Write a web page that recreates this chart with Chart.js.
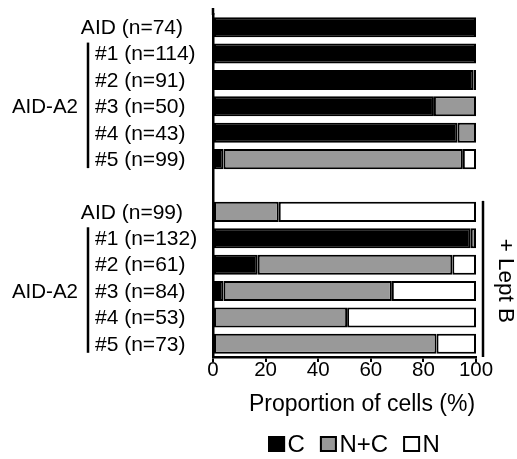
<!DOCTYPE html>
<html>
<head>
<meta charset="utf-8">
<script src="https://cdn.jsdelivr.net/npm/chart.js@4"></script>
<style>
  html, body { margin: 0; padding: 0; background: #fff; }
  #wrap { width: 517px; height: 459px; }
</style>
</head>
<body>
<div id="wrap"><canvas id="chart" width="517" height="459"></canvas></div>
<script>
// rows top to bottom, '' is the gap between the two groups
const rowLabels = ['AID (n=74)', '#1 (n=114)', '#2 (n=91)', '#3 (n=50)', '#4 (n=43)', '#5 (n=99)', '',
  'AID (n=99)', '#1 (n=132)', '#2 (n=61)', '#3 (n=84)', '#4 (n=53)', '#5 (n=73)'];
const cValues  = [100, 100, 99, 84, 93, 4,  null, 0,  98, 17, 4,  0,  0];
const ncValues = [0,   0,   1,  16, 7,  91, null, 25, 2,  74, 64, 51, 85];
const nValues  = [0,   0,   0,  0,  0,  5,  null, 75, 0,  9,  32, 49, 15];
const seriesNames = ['C', 'N+C', 'N'];
const groupLabel = 'AID-A2';
const treatmentLabel = '+ Lept B';
const xTitle = 'Proportion of cells (%)';
const xTicks = [0, 20, 40, 60, 80, 100];

const FONT = '"Liberation Sans", Arial, sans-serif';

const decorations = {
  id: 'decorations',
  afterDraw(chart) {
    const { ctx, chartArea } = chart;
    const y = chart.scales.y;
    const cy = i => y.getPixelForValue(i);
    ctx.save();
    ctx.fillStyle = '#000';
    ctx.strokeStyle = '#000';

    // y axis line runs a little above the plot
    ctx.lineWidth = 2.5;
    ctx.beginPath();
    ctx.moveTo(chartArea.left, 8);
    ctx.lineTo(chartArea.left, chartArea.top + 1);
    ctx.stroke();

    // row labels
    ctx.font = '21px ' + FONT;
    ctx.textBaseline = 'middle';
    rowLabels.forEach((lab, i) => {
      if (!lab) return;
      if (lab.startsWith('AID')) {
        ctx.textAlign = 'right';
        ctx.fillText(lab, 183, cy(i) + 1);
      } else {
        ctx.textAlign = 'left';
        ctx.fillText(lab, 95, cy(i) + 1);
      }
    });

    // group brackets + AID-A2
    ctx.font = '20.5px ' + FONT;
    [[1, 5], [8, 12]].forEach(([a, b]) => {
      ctx.beginPath();
      ctx.moveTo(88, cy(a) - 11);
      ctx.lineTo(88, cy(b) + 9);
      ctx.stroke();
      ctx.textAlign = 'right';
      ctx.fillText(groupLabel, 78, cy((a + b) / 2) + 1);
    });

    // treatment bracket on the right
    ctx.beginPath();
    ctx.moveTo(483, cy(7) - 11);
    ctx.lineTo(483, chartArea.bottom);
    ctx.stroke();
    ctx.save();
    ctx.translate(505, (cy(7) + cy(12)) / 2 + 3);
    ctx.rotate(Math.PI / 2);
    ctx.font = '22.5px ' + FONT;
    ctx.textAlign = 'center';
    ctx.fillText(treatmentLabel, 0, 0);
    ctx.restore();

    // axis title
    ctx.font = '23px ' + FONT;
    ctx.textAlign = 'center';
    ctx.textBaseline = 'alphabetic';
    ctx.fillText(xTitle, 362, 411);

    // legend
    ctx.font = '24px ' + FONT;
    const box = 17, gapText = 2.5, gapItem = 15;
    const items = chart.data.datasets.map(ds => ({ label: ds.label, color: ds.backgroundColor, w: ctx.measureText(ds.label).width }));
    const total = items.reduce((s, it) => s + box + gapText + it.w, 0) + gapItem * (items.length - 1);
    let lx = 354 - total / 2;
    ctx.textAlign = 'left';
    ctx.lineWidth = 2;
    items.forEach(it => {
      ctx.fillStyle = it.color;
      ctx.fillRect(lx, 436, box, 16);
      ctx.strokeRect(lx + 1, 437, box - 2, 14);
      ctx.fillStyle = '#000';
      ctx.fillText(it.label, lx + box + gapText, 452);
      lx += box + gapText + it.w + gapItem;
    });
    ctx.restore();
  }
};

const barStyle = { borderColor: '#000', borderWidth: 2, borderSkipped: false, barPercentage: 0.76, categoryPercentage: 1 };

new Chart(document.getElementById('chart'), {
  type: 'bar',
  data: {
    labels: rowLabels,
    datasets: [
      Object.assign({ label: seriesNames[0], data: cValues, backgroundColor: '#000' }, barStyle),
      Object.assign({ label: seriesNames[1], data: ncValues, backgroundColor: '#999' }, barStyle),
      Object.assign({ label: seriesNames[2], data: nValues, backgroundColor: '#fff' }, barStyle)
    ]
  },
  options: {
    indexAxis: 'y',
    responsive: false,
    animation: false,
    layout: { padding: { left: 213, right: 41, top: 14, bottom: 0 } },
    plugins: { legend: { display: false }, tooltip: { enabled: false } },
    scales: {
      x: {
        stacked: true,
        min: 0,
        max: 100,
        afterBuildTicks: s => { s.ticks = xTicks.map(v => ({ value: v })); },
        afterFit: s => { s.height = 102; },
        grid: { display: true, drawOnChartArea: false, drawTicks: true, tickLength: 5, color: '#000', lineWidth: 2 },
        border: { display: true, color: '#000', width: 2.5 },
        ticks: { color: '#000', font: { size: 20.5, family: FONT }, padding: -4, maxRotation: 0 }
      },
      y: {
        stacked: true,
        afterFit: s => { s.width = 0; },
        grid: { display: false },
        border: { display: true, color: '#000', width: 2.5 },
        ticks: { display: false }
      }
    }
  },
  plugins: [decorations]
});
</script>
</body>
</html>
